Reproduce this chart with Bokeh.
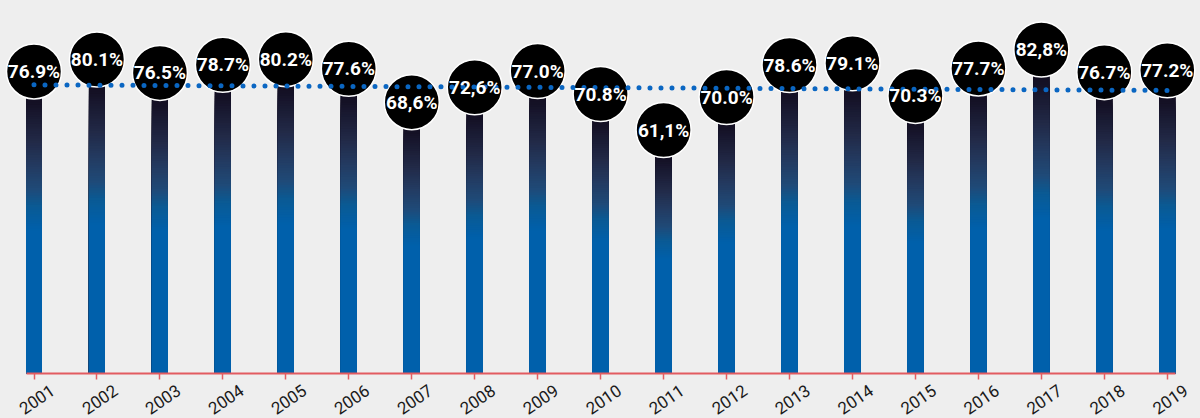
from bokeh.plotting import figure
from bokeh.models import Range1d, FixedTicker, LinearAxis, ColumnDataSource
from bokeh.core.properties import value
from bokeh.embed import file_html
from bokeh.resources import INLINE

# ---------------- data ----------------
years = list(range(2001, 2020))
rates = [76.9, 80.1, 76.5, 78.7, 80.2, 77.6, 68.6, 72.6, 77.0, 70.8,
         61.1, 70.0, 78.6, 79.1, 70.3, 77.7, 82.8, 76.7, 77.2]
rate_labels = ["76.9%", "80.1%", "76.5%", "78.7%", "80.2%", "77.6%", "68,6%",
               "72,6%", "77.0%", "70.8%", "61,1%", "70.0%", "78.6%", "79.1%",
               "70.3%", "77.7%", "82,8%", "76.7%", "77.2%"]
year_labels = [str(y) for y in years]
trend_years = [2001, 2019]
trend_values = [77.8, 76.3]

# ---------------- layout / style ----------------
BG = "#eeeeee"
AXIS_RED = "#e25b60"
W, H = 1200, 418
AXIS_PX = 373                      # pixel row of the value 0 (axis)
STEP_PX = 62.96
FIRST_PX = 33.5
X_START = years[0] - FIRST_PX / STEP_PX
X_END = X_START + W / STEP_PX
PX_PER_UNIT = 3.71
Y_START = -(H - AXIS_PX) / PX_PER_UNIT
Y_END = AXIS_PX / PX_PER_UNIT
BAR_W = 16 / STEP_PX
LIFT = 16.8 / PX_PER_UNIT          # bubble centre above the value point
LABEL_Y = -26 / PX_PER_UNIT        # year labels below axis

FONT = "Roboto"

# gradient stops (fraction of bar height from top, colour)
stops = [(0.00, (0x10, 0x0c, 0x1e)), (0.05, (0x14, 0x10, 0x24)),
         (0.19, (0x22, 0x2a, 0x48)), (0.27, (0x23, 0x3a, 0x60)),
         (0.355, (0x1f, 0x4a, 0x78)), (0.414, (0x0a, 0x5a, 0x94)),
         (0.473, (0x03, 0x5e, 0xa4)), (0.50, (0x00, 0x60, 0xab))]


def grad_color(f):
    for (f0, c0), (f1, c1) in zip(stops[:-1], stops[1:]):
        if f0 <= f <= f1:
            t = (f - f0) / (f1 - f0)
            c = [round(a + (b - a) * t) for a, b in zip(c0, c1)]
            return "#%02x%02x%02x" % tuple(c)
    return "#%02x%02x%02x" % stops[-1][1]


p = figure(frame_width=W, frame_height=H,
           x_range=Range1d(X_START, X_END), y_range=Range1d(Y_START, Y_END),
           output_backend="svg", toolbar_location=None,
           x_axis_location=None, y_axis_location=None,
           min_border_left=0, min_border_right=0, min_border_top=0,
           min_border_bottom=0)
p.background_fill_color = BG
p.border_fill_color = BG
p.outline_line_color = None
p.xgrid.visible = False
p.ygrid.visible = False

# gradient bars built from stacked quads (top-down overwrite)
N = 60
qs = dict(left=[], right=[], top=[], bottom=[], color=[])
for k in range(N + 1):
    f = 0.5 * k / N
    col = grad_color(min(f + 0.25 / N, 0.5))
    for yr, v in zip(years, rates):
        qs["left"].append(yr - BAR_W / 2)
        qs["right"].append(yr + BAR_W / 2)
        qs["top"].append(v * (1 - f))
        qs["bottom"].append(0)
        qs["color"].append(col)
p.quad(left="left", right="right", top="top", bottom="bottom",
       fill_color="color", line_color=None, source=ColumnDataSource(qs))

# bubbles
bubble_y = [v + LIFT for v in rates]
p.scatter(x=years, y=bubble_y, size=55, marker="circle",
          fill_color="black", line_color="white", line_width=1.5)

# dotted trend line
p.line(x=trend_years, y=trend_values, line_color="#0a66c2", line_width=5,
       line_dash="0 11", line_cap="round")

p.text(x=years, y=bubble_y, text=rate_labels, text_align="center",
       text_baseline="middle", text_color="white",
       text_font=value(FONT), text_font_style="bold", text_font_size="19px")

# x axis fixed at value 0
ax = LinearAxis(fixed_location=0)
ax.ticker = FixedTicker(ticks=years)
ax.bounds = (years[0] - BAR_W / 2, years[-1] + BAR_W / 2)
ax.axis_line_color = AXIS_RED
ax.axis_line_width = 2
ax.major_tick_line_color = AXIS_RED
ax.major_tick_line_width = 1.5
ax.major_tick_out = 6
ax.major_tick_in = 0
ax.minor_tick_line_color = None
ax.major_label_text_color = None
p.add_layout(ax, "below")

# rotated year labels
p.text(x=years, y=[LABEL_Y] * len(years), text=year_labels, x_offset=3,
       angle=0.6, text_align="center", text_baseline="middle",
       text_font=value(FONT), text_font_size="17px", text_color="#1a1a1a")

html = file_html(p, INLINE)
html = html.replace("<body>", '<body style="background-color:#eeeeee;">')
open("out.html", "w").write(html)
